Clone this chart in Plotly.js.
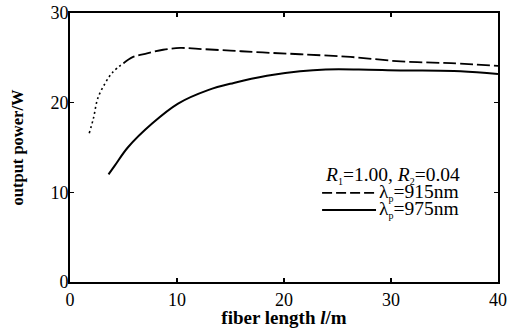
<!DOCTYPE html>
<html>
<head>
<meta charset="utf-8">
<script src="https://cdn.plot.ly/plotly-3.0.1.min.js"></script>
<style>html,body{margin:0;padding:0;background:#fff;}#chart{width:507px;height:328px;}</style>
</head>
<body>
<div id="chart"></div>
<script>
// 915 nm pump: dotted start region, then dashed
const x915Dot = [1.8, 2.2, 2.6, 3.3, 4.0, 5.0];
const y915Dot = [16.6, 18.3, 20.5, 22.2, 23.4, 24.4];
const x915 = [5.0, 5.9, 7.2, 8.7, 10.3, 12.0, 15.0, 18.0, 21.5, 26.2, 30.9, 35.6, 40.0];
const y915 = [24.4, 25.1, 25.5, 25.9, 26.1, 26.0, 25.8, 25.6, 25.4, 25.1, 24.6, 24.4, 24.1];
// 975 nm pump
const x975 = [3.6, 4.2, 5.4, 7.7, 10.1, 12.9, 15.3, 18.4, 21.5, 23.9, 27.0, 30.9, 36.5, 40.0];
const y975 = [12.0, 13.0, 15.0, 17.7, 19.9, 21.4, 22.2, 23.0, 23.5, 23.7, 23.7, 23.6, 23.5, 23.2];

const xTicks = [0, 10, 20, 30, 40];
const yTicks = [0, 10, 20, 30];

const SUB = s => '<sub><span style="font-size:10px">' + s + '</span></sub>';
const legendTitle = '<i>R</i>' + SUB('1') + '=1.00, <i>R</i>' + SUB('2') + '=0.04';
const legendNames = ['λ' + SUB('p') + '=915nm', 'λ' + SUB('p') + '=975nm'];

const serif = 'Liberation Serif, Times New Roman, DejaVu Serif, serif';
const DASH = '13px,4px';
const LEG_DASH = '10px,4px';

const traces = [
  {x: x915Dot, y: y915Dot, mode: 'lines', line: {color: '#000', width: 1.6, dash: '2px,3px', shape: 'spline'}, hoverinfo: 'skip'},
  {x: x915, y: y915, mode: 'lines', name: '915nm', line: {color: '#000', width: 1.8, dash: DASH, shape: 'spline'}},
  {x: x975, y: y975, mode: 'lines', name: '975nm', line: {color: '#000', width: 2, shape: 'spline'}}
];

const axisCommon = {
  showgrid: false, zeroline: false, showline: true, linecolor: '#000', linewidth: 2,
  mirror: 'allticks', ticks: 'inside', ticklen: 4, tickwidth: 1.5, tickcolor: '#000',
  ticklabeloverflow: 'allow',
  tickfont: {family: serif, size: 18, color: '#000'}
};

// manual legend (tight line spacing as in the reference)
const legX0 = 0.589, legX1 = 0.715, legTxtX = 0.717;
const legY = [0.331, 0.268];
const legFont = {family: serif, size: 19.5, color: '#000'};

const layout = {
  width: 507, height: 328,
  margin: {l: 70, r: 9, t: 13, b: 46},
  paper_bgcolor: '#fff', plot_bgcolor: '#fff',
  font: {family: serif, color: '#000'},
  showlegend: false,
  xaxis: Object.assign({}, axisCommon, {
    range: [0, 40], tickvals: xTicks, ticktext: xTicks.map(String),
    title: {text: '<b>fiber length <i>l</i>/m</b>', font: {family: serif, size: 19, color: '#000'}, standoff: 2}
  }),
  yaxis: Object.assign({}, axisCommon, {
    range: [0, 30], tickvals: yTicks, ticktext: yTicks.map(String), ticklabelstandoff: -4,
    title: {text: '<b>output power/W</b>', font: {family: serif, size: 16.5, color: '#000'}, standoff: 23}
  }),
  shapes: [
    {type: 'line', xref: 'paper', yref: 'paper', x0: legX0, x1: legX1, y0: legY[0], y1: legY[0], line: {color: '#000', width: 1.8, dash: LEG_DASH}},
    {type: 'line', xref: 'paper', yref: 'paper', x0: legX0, x1: legX1, y0: legY[1], y1: legY[1], line: {color: '#000', width: 2}}
  ],
  annotations: [
    {xref: 'paper', yref: 'paper', x: 0.591, y: 0.397, xanchor: 'left', yanchor: 'middle', text: legendTitle, showarrow: false, font: legFont},
    {xref: 'paper', yref: 'paper', x: legTxtX, y: legY[0], xanchor: 'left', yanchor: 'middle', text: legendNames[0], showarrow: false, font: legFont},
    {xref: 'paper', yref: 'paper', x: legTxtX, y: legY[1], xanchor: 'left', yanchor: 'middle', text: legendNames[1], showarrow: false, font: legFont}
  ]
};

Plotly.newPlot('chart', traces, layout, {displayModeBar: false, staticPlot: true});
</script>
</body>
</html>
